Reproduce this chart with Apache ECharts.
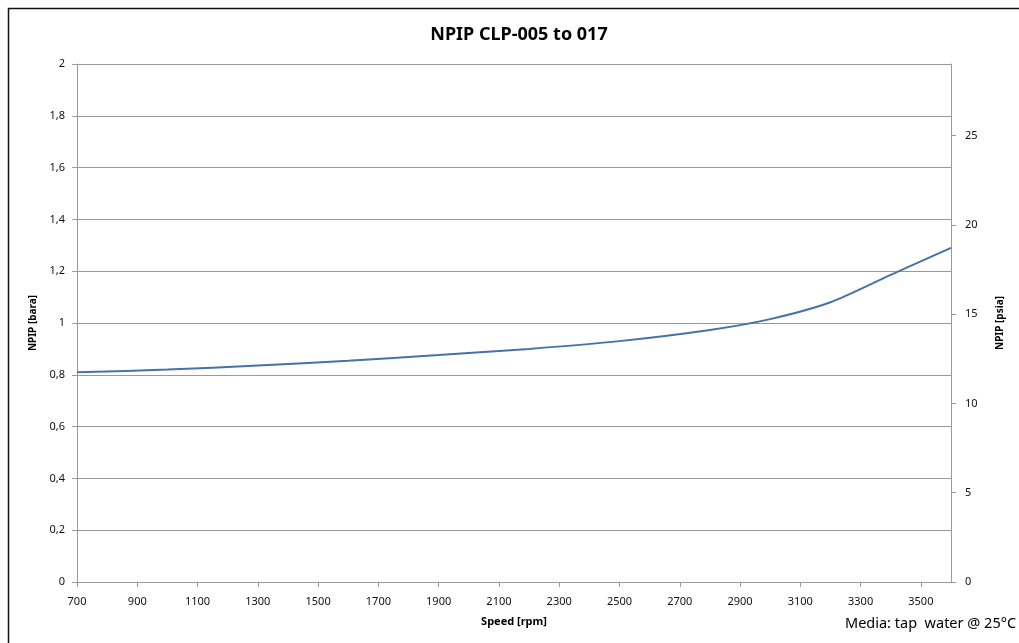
<!DOCTYPE html>
<html>
<head>
<meta charset="utf-8">
<script src="https://cdn.jsdelivr.net/npm/echarts@6/dist/echarts.min.js"></script>
<style>
  html, body { margin: 0; padding: 0; background: #fff; }
</style>
</head>
<body>
<div id="chart" style="width: 1019px; height: 643px"></div>
<script>
// speed [rpm] and NPIP [bara]
const speed = [700, 1000, 1300, 1600, 1900, 2200, 2500, 2800, 3000, 3200, 3400, 3600]
const npipBara = [0.81, 0.82, 0.836, 0.854, 0.876, 0.9, 0.93, 0.973, 1.015, 1.08, 1.186, 1.29]
const barToPsi = 14.5038

const fmtComma = function (v) {
  return String(+v.toFixed(1)).replace('.', ',')
}

var myChart = echarts.init(document.getElementById('chart'))
const axisFont = { fontFamily: 'Noto Sans', fontSize: 11, color: '#111' }
const option = {
  animation: false,
  title: {
    text: 'NPIP CLP-005 to 017',
    left: 514,
    textAlign: 'center',
    top: 21,
    textStyle: { fontFamily: 'Noto Sans', fontSize: 18, fontWeight: 'bold', color: '#000' }
  },
  grid: { left: 77, right: 68, top: 64, bottom: 61, containLabel: false },
  xAxis: {
    type: 'value',
    min: 700,
    max: 3600,
    interval: 200,
    name: 'Speed [rpm]',
    nameLocation: 'middle',
    nameGap: 34,
    nameTextStyle: { fontFamily: 'Noto Sans', fontSize: 11, fontWeight: 'bold', color: '#000' },
    axisLine: { lineStyle: { color: '#999' } },
    axisTick: { show: true, length: 5, lineStyle: { color: '#999' } },
    axisLabel: Object.assign({ margin: 14, showMaxLabel: false, formatter: function (v) { return String(v) } }, axisFont),
    splitLine: { show: false }
  },
  yAxis: [
    {
      type: 'value',
      min: 0,
      max: 2,
      interval: 0.2,
      name: 'NPIP [bara]',
      nameLocation: 'middle',
      nameGap: 38,
      nameTextStyle: { fontFamily: 'Noto Sans', fontSize: 10, fontWeight: 'bold', color: '#000' },
      axisLine: { show: true, lineStyle: { color: '#999' } },
      axisTick: { show: true, length: 5, lineStyle: { color: '#999' } },
      axisLabel: Object.assign({ formatter: fmtComma, margin: 12 }, axisFont),
      splitLine: { show: true, lineStyle: { color: '#999', width: 1 } }
    },
    {
      type: 'value',
      min: 0,
      max: 2 * barToPsi,
      interval: 5,
      position: 'right',
      name: 'NPIP [psia]',
      nameLocation: 'middle',
      nameGap: 44,
      nameRotate: 90,
      nameTextStyle: { fontFamily: 'Noto Sans', fontSize: 10, fontWeight: 'bold', color: '#000' },
      axisLine: { show: true, lineStyle: { color: '#999' } },
      axisTick: { show: true, length: 5, lineStyle: { color: '#999' } },
      axisLabel: Object.assign({ margin: 14, showMaxLabel: false }, axisFont),
      splitLine: { show: false }
    }
  ],
  graphic: [
    {
      type: 'rect',
      shape: { x: 8.5, y: 8.5, width: 1100, height: 700 },
      style: { fill: 'none', stroke: '#111', lineWidth: 1.5 },
      silent: true
    },
    {
      type: 'text',
      left: 845,
      top: 616,
      style: { text: 'Media: tap  water @ 25°C', fontFamily: 'Noto Sans', fontSize: 14.5, fill: '#000' }
    }
  ],
  series: [
    {
      name: 'NPIP',
      type: 'line',
      yAxisIndex: 0,
      smooth: 0.25,
      symbol: 'none',
      lineStyle: { color: '#4572a7', width: 2 },
      data: speed.map(function (s, i) { return [s, npipBara[i]] })
    }
  ]
}
myChart.setOption(option)
</script>
</body>
</html>
